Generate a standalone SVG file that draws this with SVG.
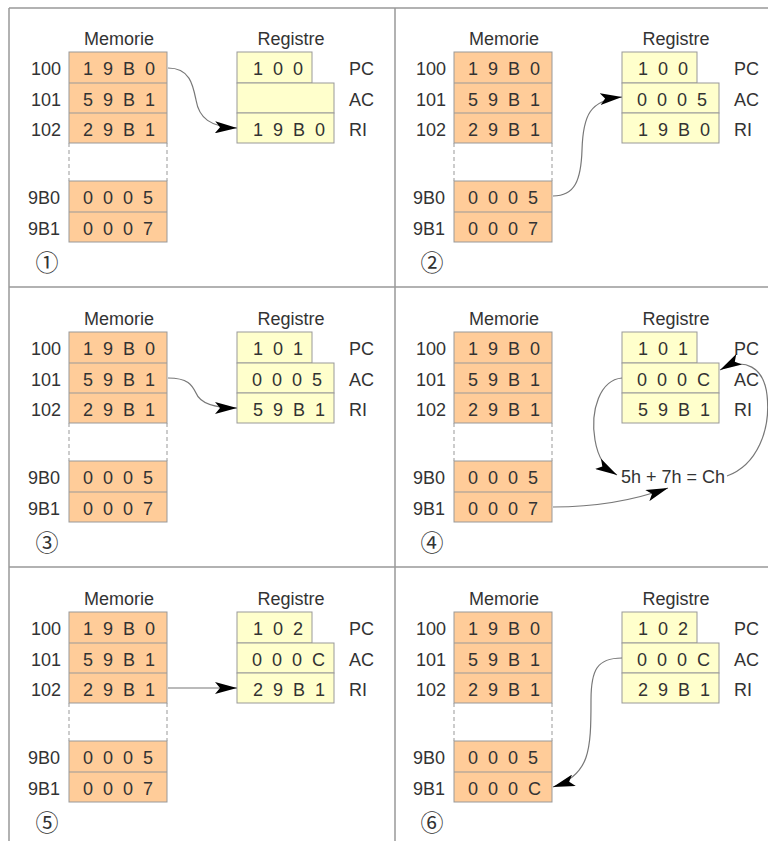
<svg xmlns="http://www.w3.org/2000/svg" width="768" height="841" viewBox="0 0 768 841">
<style>
.frame{stroke:#999;stroke-width:1.5;fill:none}
.mem{fill:#FFCC99;stroke:#999;stroke-width:1}
.reg{fill:#FFFFCC;stroke:#999;stroke-width:1}
.sep{stroke:#999;stroke-width:1}
.dash{stroke:#999;stroke-width:1;stroke-dasharray:4 3}
.t{font-family:"Liberation Sans",Arial,sans-serif;font-size:18px;fill:#333}
.v{letter-spacing:2.5px}
.e{text-anchor:end}
.m{text-anchor:middle}
.c{font-family:"Noto Sans CJK JP","DejaVu Sans",sans-serif;font-size:23px;fill:#333;text-anchor:middle}
.conn{fill:none;stroke:#777;stroke-width:1.2;marker-end:url(#ah)}
</style>
<defs>
<marker id="ah" viewBox="0 0 22 12" refX="22" refY="6" markerWidth="22" markerHeight="12" markerUnits="userSpaceOnUse" orient="auto">
<path d="M0,0 L22,6 L0,12 L5,6 z" fill="#000"/>
</marker>
<g id="memframe">
<rect class="mem" x="69" y="52" width="98" height="91"/>
<line class="sep" x1="69" y1="83" x2="167" y2="83"/>
<line class="sep" x1="69" y1="113" x2="167" y2="113"/>
<line class="dash" x1="69" y1="143" x2="69" y2="181"/>
<line class="dash" x1="167" y1="143" x2="167" y2="181"/>
<rect class="mem" x="69" y="181" width="98" height="61"/>
<line class="sep" x1="69" y1="212" x2="167" y2="212"/>
<text class="t m" x="119" y="45">Memorie</text>
<text class="t e" x="61" y="75">100</text>
<text class="t e" x="61" y="106">101</text>
<text class="t e" x="61" y="136">102</text>
<text class="t e" x="60" y="204">9B0</text>
<text class="t e" x="60" y="235">9B1</text>
</g>
<g id="regframe">
<rect class="reg" x="237" y="52" width="75" height="31"/>
<rect class="reg" x="237" y="83" width="97" height="30"/>
<rect class="reg" x="237" y="113" width="97" height="30"/>
<text class="t m" x="291" y="45">Registre</text>
<text class="t" x="349" y="75">PC</text>
<text class="t" x="349" y="106">AC</text>
<text class="t" x="349" y="136">RI</text>
</g>
</defs>

<g id="frame">
<line class="frame" x1="9" y1="8" x2="768" y2="8"/>
<line class="frame" x1="9" y1="8" x2="9" y2="841"/>
<line class="frame" x1="395" y1="8" x2="395" y2="841"/>
<line class="frame" x1="9" y1="287" x2="768" y2="287"/>
<line class="frame" x1="9" y1="567" x2="768" y2="567"/>
</g>

<g id="panel1">
<g id="p1-memory"><use href="#memframe"/>
<text class="t v" x="83" y="75">1 9 B 0</text><text class="t v" x="83" y="106">5 9 B 1</text><text class="t v" x="83" y="136">2 9 B 1</text>
<text class="t v" x="83" y="204">0 0 0 5</text><text class="t v" x="83" y="235">0 0 0 7</text></g>
<g id="p1-registers"><use href="#regframe"/>
<text class="t v" x="253" y="75">1 0 0</text><text class="t v" x="253" y="136">1 9 B 0</text></g>
<text class="c" x="47" y="271">①</text>
</g>

<g id="panel2" transform="translate(385,0)">
<g id="p2-memory"><use href="#memframe"/>
<text class="t v" x="83" y="75">1 9 B 0</text><text class="t v" x="83" y="106">5 9 B 1</text><text class="t v" x="83" y="136">2 9 B 1</text>
<text class="t v" x="83" y="204">0 0 0 5</text><text class="t v" x="83" y="235">0 0 0 7</text></g>
<g id="p2-registers"><use href="#regframe"/>
<text class="t v" x="253" y="75">1 0 0</text><text class="t v" x="252" y="106">0 0 0 5</text><text class="t v" x="253" y="136">1 9 B 0</text></g>
<text class="c" x="47" y="271">②</text>
</g>

<g id="panel3" transform="translate(0,280)">
<g id="p3-memory"><use href="#memframe"/>
<text class="t v" x="83" y="75">1 9 B 0</text><text class="t v" x="83" y="106">5 9 B 1</text><text class="t v" x="83" y="136">2 9 B 1</text>
<text class="t v" x="83" y="204">0 0 0 5</text><text class="t v" x="83" y="235">0 0 0 7</text></g>
<g id="p3-registers"><use href="#regframe"/>
<text class="t v" x="253" y="75">1 0 1</text><text class="t v" x="252" y="106">0 0 0 5</text><text class="t v" x="253" y="136">5 9 B 1</text></g>
<text class="c" x="47" y="271">③</text>
</g>

<g id="panel4" transform="translate(385,280)">
<g id="p4-memory"><use href="#memframe"/>
<text class="t v" x="83" y="75">1 9 B 0</text><text class="t v" x="83" y="106">5 9 B 1</text><text class="t v" x="83" y="136">2 9 B 1</text>
<text class="t v" x="83" y="204">0 0 0 5</text><text class="t v" x="83" y="235">0 0 0 7</text></g>
<g id="p4-registers"><use href="#regframe"/>
<text class="t v" x="253" y="75">1 0 1</text><text class="t v" x="252" y="106">0 0 0 C</text><text class="t v" x="253" y="136">5 9 B 1</text></g>
<g id="p4-sum"><text class="t" x="236" y="203">5h + 7h = Ch</text></g>
<text class="c" x="47" y="271">④</text>
</g>

<g id="panel5" transform="translate(0,560)">
<g id="p5-memory"><use href="#memframe"/>
<text class="t v" x="83" y="75">1 9 B 0</text><text class="t v" x="83" y="106">5 9 B 1</text><text class="t v" x="83" y="136">2 9 B 1</text>
<text class="t v" x="83" y="204">0 0 0 5</text><text class="t v" x="83" y="235">0 0 0 7</text></g>
<g id="p5-registers"><use href="#regframe"/>
<text class="t v" x="253" y="75">1 0 2</text><text class="t v" x="252" y="106">0 0 0 C</text><text class="t v" x="253" y="136">2 9 B 1</text></g>
<text class="c" x="47" y="271">⑤</text>
</g>

<g id="panel6" transform="translate(385,560)">
<g id="p6-memory"><use href="#memframe"/>
<text class="t v" x="83" y="75">1 9 B 0</text><text class="t v" x="83" y="106">5 9 B 1</text><text class="t v" x="83" y="136">2 9 B 1</text>
<text class="t v" x="83" y="204">0 0 0 5</text><text class="t v" x="83" y="235">0 0 0 C</text></g>
<g id="p6-registers"><use href="#regframe"/>
<text class="t v" x="253" y="75">1 0 2</text><text class="t v" x="252" y="106">0 0 0 C</text><text class="t v" x="253" y="136">2 9 B 1</text></g>
<text class="c" x="47" y="271">⑥</text>
</g>

<g id="connectors">
<path class="conn" d="M168,68 C190,68 193,85 196,100 C199,118 210,127 237,128"/>
<path class="conn" transform="translate(385,0)" d="M168,196 C190,196 196,180 197,150 C198,115 205,100 237,97"/>
<path class="conn" transform="translate(0,280)" d="M168,98 C188,98 192,105 196,113 C200,123 212,128 237,128"/>
<g transform="translate(385,280)">
<path class="conn" d="M237,98 C215,100 205,130 210,160 C213,178 220,188 232,195"/>
<path class="conn" d="M168,227 C210,227 250,220 283,208"/>
<path class="conn" d="M342,196 C372,185 386,150 382,115 C379,88 360,76 335,90"/>
</g>
<path class="conn" transform="translate(0,560)" d="M168,128 L237,128"/>
<path class="conn" transform="translate(385,560)" d="M237,98 C212,98 206,110 206,140 C206,190 205,215 168,227"/>
</g>
</svg>
